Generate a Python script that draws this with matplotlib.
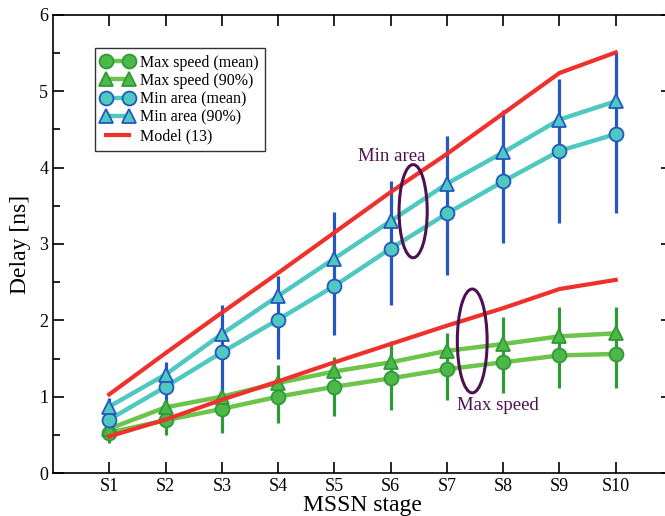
import numpy as np
import matplotlib
matplotlib.use("Agg")
import matplotlib.pyplot as plt
from matplotlib.patches import Ellipse
from matplotlib.ticker import MultipleLocator

stages = ["S1", "S2", "S3", "S4", "S5", "S6", "S7", "S8", "S9", "S10"]

# max speed
ms_mean = [0.53, 0.69, 0.84, 1.00, 1.13, 1.24, 1.36, 1.45, 1.54, 1.56]
ms_90 = [0.58, 0.86, 1.00, 1.18, 1.33, 1.45, 1.60, 1.69, 1.79, 1.83]
ms_lo = [0.39, 0.50, 0.52, 0.65, 0.75, 0.82, 0.95, 1.05, 1.12, 1.12]
ms_hi = [0.62, 0.92, 1.09, 1.41, 1.52, 1.73, 1.83, 2.04, 2.17, 2.18]

# min area
ma_mean = [0.70, 1.13, 1.58, 2.01, 2.45, 2.94, 3.40, 3.82, 4.22, 4.44]
ma_90 = [0.87, 1.29, 1.82, 2.32, 2.81, 3.30, 3.79, 4.20, 4.63, 4.87]
ma_lo = [0.50, 0.83, 1.05, 1.49, 1.81, 2.20, 2.59, 3.01, 3.28, 3.41]
ma_hi = [0.98, 1.46, 2.20, 2.58, 3.42, 3.83, 4.42, 4.76, 5.16, 5.51]

# model (13)
model_ma = [1.03, 1.57, 2.10, 2.62, 3.15, 3.68, 4.18, 4.71, 5.24, 5.51]
model_ms = [0.48, 0.70, 0.96, 1.20, 1.45, 1.69, 1.93, 2.16, 2.41, 2.53]

plt.rcParams['font.family'] = ['Liberation Serif', 'DejaVu Serif']
plt.rcParams['mathtext.fontset'] = 'stix'

x = np.arange(1, len(stages) + 1)

fig = plt.figure(figsize=(6.65, 5.16), dpi=100)
ax = fig.add_axes([53 / 665, 43 / 516, 619 / 665, 458 / 516])

green_line = '#6cc44a'
green_face = '#4cb848'
green_edge = '#2f9a37'
cyan = '#4fc8c0'
blue = '#2457c0'
red = '#f0302c'
purple = '#4d1150'

def series(y, lo, hi, line, face, edge, bar, marker, label, with_bar):
    y = np.array(y)
    if with_bar:
        ax.errorbar(x, y, yerr=[y - np.array(lo), np.array(hi) - y], fmt='none',
                    ecolor=bar, elinewidth=2.3, capsize=0, zorder=3)
    ax.plot(x, y, color=line, lw=3.2, zorder=2)
    ax.plot(x, y, ls='none', marker=marker, ms=10 if marker == 'o' else 10.5,
            mfc=face, mec=edge, mew=1.3, zorder=4)
    return ax.plot([], [], color=line, lw=3.2, marker=marker, ms=10,
                   mfc=face, mec=edge, mew=1.3, label=label)[0]

h1 = series(ms_mean, ms_lo, ms_hi, green_line, green_face, green_edge, green_edge, 'o',
            'Max speed (mean)', True)
h2 = series(ms_90, None, None, green_line, green_face, green_edge, None, '^',
            'Max speed (90%)', False)
h3 = series(ma_mean, ma_lo, ma_hi, cyan, cyan, blue, blue, 'o',
            'Min area (mean)', True)
h4 = series(ma_90, None, None, cyan, cyan, blue, None, '^',
            'Min area (90%)', False)
h5, = ax.plot(x, model_ma, color=red, lw=3, zorder=5, label='Model (13)')
ax.plot(x, model_ms, color=red, lw=3, zorder=5)

# annotations
ax.add_patch(Ellipse((6.40, 3.43), 0.50, 1.22, fill=False, ec=purple, lw=2.2, zorder=6))
ax.add_patch(Ellipse((7.45, 1.73), 0.53, 1.36, fill=False, ec=purple, lw=2.2, zorder=6))
ax.text(6.02, 4.15, 'Min area', color=purple, fontsize=13.5, ha='center', va='center')
ax.text(7.91, 0.89, 'Max speed', color=purple, fontsize=13.5, ha='center', va='center')

ax.set_xlim(0, 11)
ax.set_ylim(0, 6)
ax.set_xticks(x)
ax.set_xticklabels(stages)
ax.yaxis.set_major_locator(MultipleLocator(1))
ax.yaxis.set_minor_locator(MultipleLocator(0.5))
ax.tick_params(which='both', direction='in', top=True, right=True, labelsize=13, width=1.2)
ax.tick_params(which='major', length=8)
ax.tick_params(which='minor', length=5)
for s in ax.spines.values():
    s.set_linewidth(1.2)

ax.set_xlabel('MSSN stage', fontsize=17, labelpad=0)
ax.set_ylabel('Delay [ns]', fontsize=17, labelpad=6)

leg = ax.legend(handles=[h1, h2, h3, h4, h5], loc='upper left',
                bbox_to_anchor=(0.055, 0.945), fontsize=11.5, numpoints=2,
                handlelength=2.0, handletextpad=0.4, labelspacing=0.15,
                borderpad=0.4, fancybox=False, framealpha=1, edgecolor='#333333')
leg.get_frame().set_linewidth(1.0)

fig.savefig('out.png', dpi=100)
